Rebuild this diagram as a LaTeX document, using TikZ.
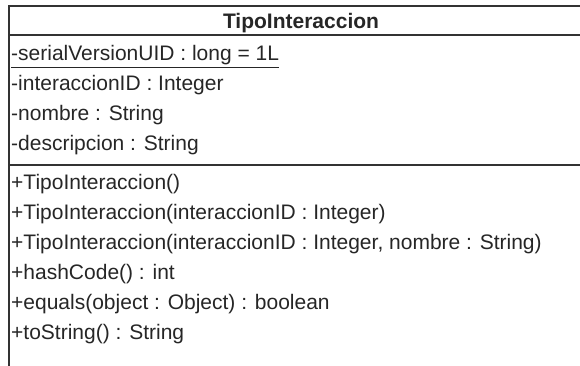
\documentclass[tikz,border=0pt]{standalone}
\usepackage{fontspec}
\setmainfont{Liberation Sans}
\usetikzlibrary{positioning}

\begin{document}
\begin{tikzpicture}[x=1pt,y=-1pt,
    member/.style={anchor=base west, inner sep=0pt,
                   font=\fontsize{21}{25}\selectfont, text=black!85},
    classname/.style={anchor=base, inner sep=0pt,
                   font=\fontsize{21}{25}\selectfont\bfseries, text=black!85},
    classline/.style={draw=black!80, line width=1.3pt},
  ]
  \useasboundingbox (0,0) rectangle (580,366);
  % class box, cut at the right and bottom
  \draw[classline] (580,6) -- (9,6) -- (9,366);
  \draw[classline] (9,35) -- (580,35);
  \draw[classline] (9,165) -- (580,165);
  \node[classname] (cls) at (301,29) {TipoInteraccion};
  % attributes
  \node[member] (serial) at (11,61) {\underline{-serialVersionUID : long = 1L}};
  \node[member] (idattr) at (11,91) {-interaccionID : Integer};
  \node[member] (nomattr) at (11,121) {-nombre : String};
  \node[member] (descattr) at (11,151) {-descripcion : String};
  % operations
  \node[member] (ctor0) at (11,189) {+TipoInteraccion()};
  \node[member] (ctor1) at (11,219) {+TipoInteraccion(interaccionID : Integer)};
  \node[member] (ctor2) at (11,249) {+TipoInteraccion(interaccionID : Integer, nombre : String)};
  \node[member] (hash) at (11,279) {+hashCode() : int};
  \node[member] (eq) at (11,309) {+equals(object : Object) : boolean};
  \node[member] (tostr) at (11,339) {+toString() : String};
\end{tikzpicture}
\end{document}
